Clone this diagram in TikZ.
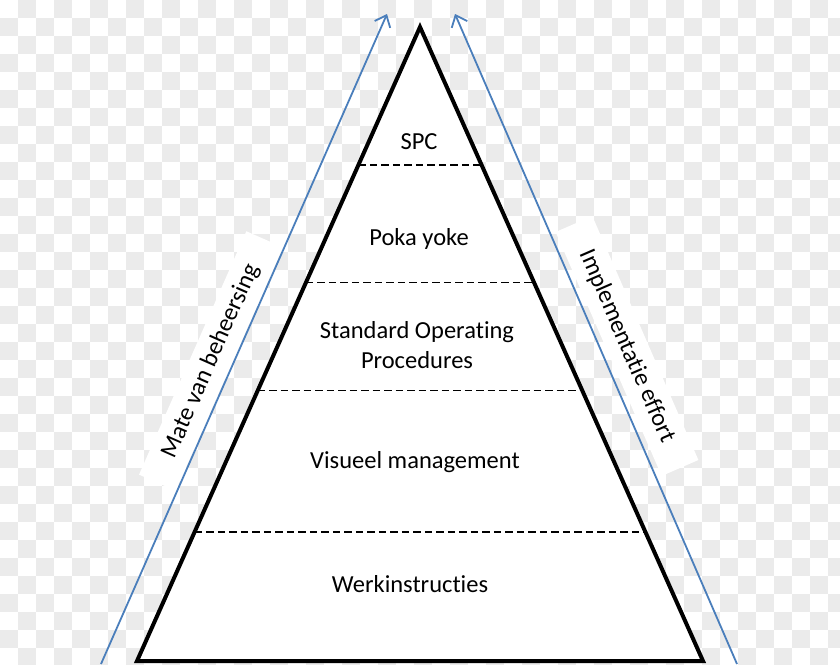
\documentclass[tikz,border=0pt]{standalone}
\usepackage{fontspec}
\setmainfont[Ligatures=NoCommon]{Carlito}
\usetikzlibrary{arrows.meta,calc}
\definecolor{chk}{RGB}{235,235,235}
\definecolor{arrowblue}{RGB}{74,126,187}
\begin{document}
\begin{tikzpicture}[x=1pt,y=-1pt,
 lbl/.style={font=\fontsize{24.5}{29.5}\selectfont, align=center, text=black, inner sep=0pt},
 sidebox/.style={fill=white, minimum width=266pt, minimum height=40pt, inner sep=0pt, font=\fontsize{24.5}{29.5}\selectfont},
 layer/.style={dash pattern=on 7.5pt off 4pt, line width=1.8pt},
 axis/.style={arrowblue, line width=1.8pt, -{Straight Barb[length=10pt,width=17pt,line width=1.8pt]}}]
\useasboundingbox (0,0) rectangle (840,664);
\fill[white] (0,0) rectangle (840,664);
\foreach \i in {0,...,46}{\foreach \j in {0,...,36}{%
  \pgfmathparse{int(mod(\i+\j,2))}%
  \ifnum\pgfmathresult=1 \fill[chk] (\i*18,\j*18) rectangle ++(18,18);\fi}}
% side labels
\node[sidebox, rotate=66.2] (lmate) at (211,361) {Mate van beheersing};
\node[sidebox, rotate=-66.5] (limpl) at (627,346) {Implementatie effort};
% pyramid
\coordinate (apex) at (420,27);
\coordinate (bl) at (137,661);
\coordinate (br) at (703,661);
\filldraw[fill=white, line width=4pt, line join=miter, miter limit=10] (apex) -- (bl) -- (br) -- cycle;
\foreach \t in {0.2177,0.4029,0.5734,0.7959}{
  \draw[layer] ($(apex)!\t!(bl)$) -- ($(apex)!\t!(br)$);}
% texts
\node[lbl] (spc) at (419,142) {SPC};
\node[lbl] (poka) at (419,239) {Poka yoke};
\node[lbl] (sop) at (417,345) {Standard Operating\\Procedures};
\node[lbl] (vis) at (415,462) {Visueel management};
\node[lbl] (werk) at (410,584) {Werkinstructies};
% axes
\coordinate (la0) at (101,664);
\coordinate (la1) at (387,14);
\coordinate (ra0) at (737,664);
\coordinate (ra1) at (455,14);
\draw[axis] (la0) -- (la1);
\draw[axis] (ra0) -- (ra1);
\end{tikzpicture}
\end{document}
